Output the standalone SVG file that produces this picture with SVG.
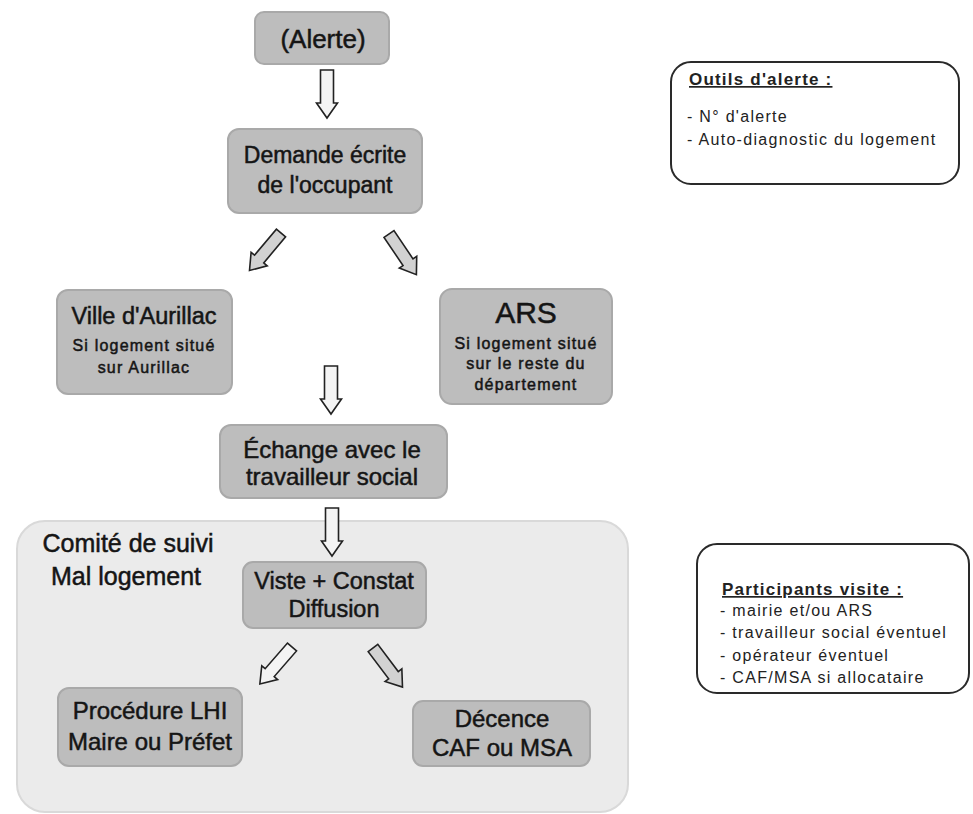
<svg xmlns="http://www.w3.org/2000/svg" xmlns:xlink="http://www.w3.org/1999/xlink" width="973" height="814" viewBox="0 0 973 814">
<style>
.node{fill:#bdbdbd;stroke:#a9a9a9;stroke-width:2}
.t{font-family:"Liberation Sans",Arial,sans-serif;fill:#151515;text-anchor:middle;stroke:#151515;stroke-width:0.5}
.s{letter-spacing:1.2px}
.note{fill:#ffffff;stroke:#2a2a2a;stroke-width:2}
.nt{font-family:"Liberation Sans",Arial,sans-serif;fill:#222;font-size:16px;letter-spacing:1.3px}
.nh{font-family:"Liberation Sans",Arial,sans-serif;fill:#222;font-size:17px;font-weight:bold;letter-spacing:1.2px;text-decoration:underline}
.arr{stroke:#222;stroke-width:1.6;stroke-linejoin:miter}
.av{fill:#f4f4f4}
.ad{fill:#d2d2d2}
</style>
<defs>
<path id="arrV" d="M-6.5,0 H6.5 V33 H10.5 L0,48 L-10.5,33 H-6.5 Z"/>
<path id="arrD" d="M-6,0 H6 V34 H10.5 L0,49 L-10.5,34 H-6 Z"/>
</defs>

<g id="comite">
<rect x="17" y="521" width="611" height="291" rx="28" fill="#ebebeb" stroke="#d9d9d9" stroke-width="2"/>
<text class="t" x="128" y="552" font-size="25">Comité de suivi</text>
<text class="t" x="126" y="585" font-size="25">Mal logement</text>
</g>

<g id="alerte">
<rect class="node" x="255" y="12" width="134" height="52" rx="9"/>
<text class="t" x="323" y="48" font-size="26">(Alerte)</text>
</g>

<g id="demande">
<rect class="node" x="228" y="129" width="194" height="84" rx="11"/>
<text class="t" x="325" y="163" font-size="23">Demande écrite</text>
<text class="t" x="325" y="193" font-size="23">de l'occupant</text>
</g>

<g id="ville">
<rect class="node" x="57" y="290" width="175" height="104" rx="11"/>
<text class="t" x="144" y="324" font-size="23.5">Ville d'Aurillac</text>
<text class="t s" x="144" y="351" font-size="16">Si logement situé</text>
<text class="t s" x="144" y="373" font-size="16">sur Aurillac</text>
</g>

<g id="ars">
<rect class="node" x="440" y="289" width="172" height="115" rx="12"/>
<text class="t" x="526" y="323" font-size="30">ARS</text>
<text class="t s" x="526" y="349" font-size="16">Si logement situé</text>
<text class="t s" x="526" y="369" font-size="16">sur le reste du</text>
<text class="t s" x="526" y="390" font-size="16">département</text>
</g>

<g id="echange">
<rect class="node" x="220" y="425" width="227" height="73" rx="11"/>
<text class="t" x="332" y="458" font-size="24">Échange avec le</text>
<text class="t" x="332" y="485" font-size="24">travailleur social</text>
</g>

<g id="visite">
<rect class="node" x="243" y="562" width="183" height="66" rx="10"/>
<text class="t" x="334" y="589" font-size="23.5">Viste + Constat</text>
<text class="t" x="334" y="617" font-size="23.5">Diffusion</text>
</g>

<g id="procedure">
<rect class="node" x="58" y="688" width="184" height="78" rx="11"/>
<text class="t" x="150" y="719" font-size="24">Procédure LHI</text>
<text class="t" x="150" y="750" font-size="24">Maire ou Préfet</text>
</g>

<g id="decence">
<rect class="node" x="413" y="701" width="177" height="65" rx="10"/>
<text class="t" x="502" y="727" font-size="24">Décence</text>
<text class="t" x="502" y="756" font-size="24">CAF ou MSA</text>
</g>

<g id="outils">
<rect class="note" x="671" y="62" width="288" height="122" rx="20"/>
<text class="nh" x="689" y="85">Outils d'alerte :</text>
<text class="nt" x="687" y="122">- N° d'alerte</text>
<text class="nt" x="687" y="145">- Auto-diagnostic du logement</text>
</g>

<g id="participants">
<rect class="note" x="697" y="544" width="272" height="149" rx="20"/>
<text class="nh" x="722" y="595">Participants visite :</text>
<text class="nt" x="720" y="616">- mairie et/ou ARS</text>
<text class="nt" x="720" y="638">- travailleur social éventuel</text>
<text class="nt" x="720" y="661">- opérateur éventuel</text>
<text class="nt" x="720" y="683">- CAF/MSA si allocataire</text>
</g>

<g id="connectors">
<use xlink:href="#arrV" class="arr av" transform="translate(327,70)"/>
<use xlink:href="#arrD" class="arr ad" transform="translate(281,233) rotate(40)"/>
<use xlink:href="#arrD" class="arr ad" transform="translate(389,234) rotate(-34)"/>
<use xlink:href="#arrV" class="arr av" transform="translate(331,366)"/>
<use xlink:href="#arrV" class="arr av" transform="translate(332,508)"/>
<use xlink:href="#arrD" class="arr av" transform="translate(292,647) rotate(41)"/>
<use xlink:href="#arrD" class="arr ad" transform="translate(373,648) rotate(-37)"/>
</g>
</svg>
